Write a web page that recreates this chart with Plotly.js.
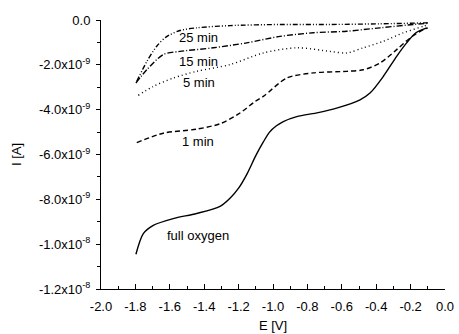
<!DOCTYPE html>
<html><head><meta charset="utf-8">
<script src="https://cdn.plot.ly/plotly-3.0.1.min.js"></script>
<style>html,body{margin:0;padding:0;background:#fff}#chart{width:459px;height:334px}</style>
</head><body><div id="chart"></div>
<script>
// Data (E in V, I in units of 1e-9 A)
const fullE = [-1.797,-1.754,-1.696,-1.580,-1.444,-1.308,-1.250,-1.200,-1.150,-1.100,-1.057,-1.020,-0.980,-0.940,-0.862,-0.737,-0.630,-0.494,-0.436,-0.359,-0.281,-0.223,-0.169,-0.106];
const fullI = [-10.45,-9.53,-9.16,-8.86,-8.63,-8.31,-7.95,-7.50,-6.85,-6.05,-5.45,-5.00,-4.72,-4.53,-4.31,-4.13,-3.93,-3.56,-3.26,-2.52,-1.62,-1.02,-0.57,-0.35];
const m1E = [-1.792,-1.638,-1.444,-1.308,-1.192,-1.105,-1.056,-0.920,-0.766,-0.572,-0.475,-0.378,-0.281,-0.203,-0.126,-0.10];
const m1I = [-5.47,-5.05,-4.87,-4.63,-4.15,-3.64,-3.41,-2.59,-2.36,-2.29,-2.22,-1.92,-1.32,-0.80,-0.43,-0.35];
const m5E = [-1.783,-1.696,-1.580,-1.444,-1.250,-1.056,-0.862,-0.669,-0.572,-0.475,-0.359,-0.242,-0.126,-0.10];
const m5I = [-3.36,-2.96,-2.59,-2.29,-1.99,-1.47,-1.24,-1.40,-1.47,-1.24,-0.95,-0.57,-0.28,-0.22];
const m15E = [-1.797,-1.734,-1.638,-1.541,-1.347,-1.153,-0.959,-0.766,-0.572,-0.378,-0.184,-0.10];
const m15I = [-2.81,-2.22,-1.54,-1.40,-1.24,-1.02,-0.73,-0.57,-0.50,-0.35,-0.20,-0.15];
const m25E = [-1.792,-1.734,-1.676,-1.618,-1.541,-1.444,-1.250,-0.959,-0.669,-0.378,-0.126,-0.10];
const m25I = [-2.73,-1.86,-1.17,-0.74,-0.47,-0.35,-0.25,-0.20,-0.20,-0.17,-0.13,-0.12];

const labelText = ["25 min","15 min","5 min","1 min","full oxygen"];
const labelE = [-1.436,-1.436,-1.430,-1.436,-1.436];
const labelI = [-0.78,-1.86,-2.80,-5.40,-9.60];

const xTickVals = [-2,-1.8,-1.6,-1.4,-1.2,-1,-0.8,-0.6,-0.4,-0.2,0];
const xTickText = ["-2.0","-1.8","-1.6","-1.4","-1.2","-1.0","-0.8","-0.6","-0.4","-0.2","0.0"];
const yTickVals = [0,-2,-4,-6,-8,-10,-12];
const yTickText = ["0.0","-2.0x10<sup>-9</sup>","-4.0x10<sup>-9</sup>","-6.0x10<sup>-9</sup>","-8.0x10<sup>-9</sup>","-1.0x10<sup>-8</sup>","-1.2x10<sup>-8</sup>"];

const sc = v => v.map(a => a*1e-9);
const mk = (x,y,dash) => ({x:x,y:sc(y),mode:'lines',type:'scatter',line:{color:'#000',width:1.4,dash:dash,shape:'spline',smoothing:0.8},hoverinfo:'skip',showlegend:false});
const traces = [
  mk(fullE,fullI,'solid'),
  mk(m1E,m1I,'5px,3px'),
  mk(m5E,m5I,'1px,3px'),
  mk(m15E,m15I,'6px,2px,1px,2px'),
  mk(m25E,m25I,'5px,2px,1px,2px,1px,2px')
];
const FAM = 'Liberation Sans, Arial, sans-serif';
const annotations = labelText.map((t,i)=>({x:labelE[i],y:labelI[i]*1e-9,text:t,showarrow:false,xanchor:'center',yanchor:'middle',font:{family:FAM,size:13,color:'#000'}}));
const layout = {
  width:459,height:334,
  margin:{l:101,r:14,t:20,b:45},
  paper_bgcolor:'#fff',plot_bgcolor:'#fff',
  font:{family:FAM,size:13,color:'#000'},
  showlegend:false,
  xaxis:{range:[-2,0],tickmode:'array',tickvals:xTickVals,ticktext:xTickText,
    ticks:'inside',ticklen:5,tickcolor:'#000',showline:true,linecolor:'#000',linewidth:1,
    showgrid:false,zeroline:false,tickfont:{size:13},ticklabelstandoff:5,
    minor:{tickmode:'array',tickvals:[-1.9,-1.7,-1.5,-1.3,-1.1,-0.9,-0.7,-0.5,-0.3,-0.1],ticks:'inside',ticklen:3,tickcolor:'#000',showgrid:false},
    title:{text:'E [V]',font:{size:13},standoff:8}},
  yaxis:{range:[-1.2e-8,0],tickmode:'array',tickvals:yTickVals.map(v=>v*1e-9),ticktext:yTickText,
    ticks:'outside',ticklen:4,tickcolor:'#000',showline:true,linecolor:'#000',linewidth:1,
    showgrid:false,zeroline:false,tickfont:{size:13},ticklabelstandoff:3,
    minor:{tickmode:'array',tickvals:[-1e-9,-3e-9,-5e-9,-7e-9,-9e-9,-11e-9],ticks:'outside',ticklen:3,tickcolor:'#000',showgrid:false},
    title:{text:'I [A]',font:{size:13},standoff:14}},
  annotations:annotations
};
Plotly.newPlot('chart',traces,layout,{staticPlot:true,displayModeBar:false});
</script></body></html>
